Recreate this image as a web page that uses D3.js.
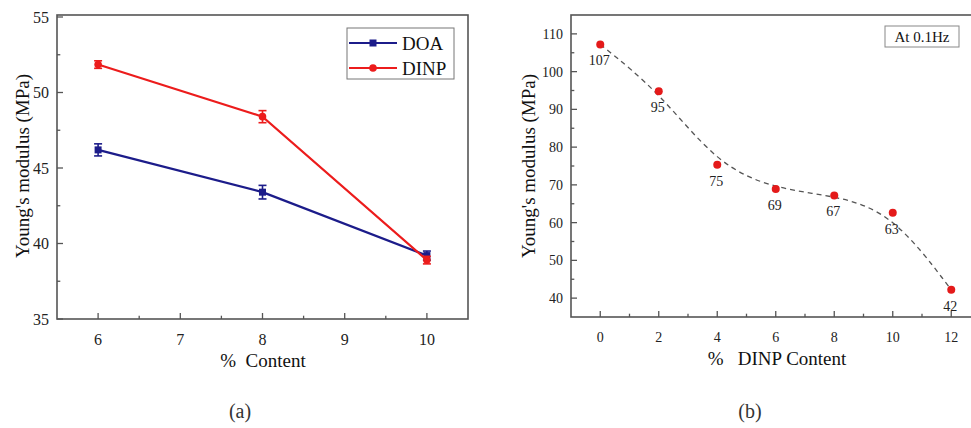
<!DOCTYPE html>
<html>
<head>
<meta charset="utf-8">
<script src="https://cdn.jsdelivr.net/npm/d3@7"></script>
<style>
body { margin: 0; background: #fff; }
svg { display: block; }
</style>
</head>
<body>
<svg id="chart" width="971" height="428"></svg>
<script>
// panel (a)
var contentA = [6, 8, 10]
var doaVals = [46.2, 43.4, 39.2]
var doaErr = [0.4, 0.45, 0.3]
var dinpVals = [51.85, 48.4, 38.9]
var dinpErr = [0.25, 0.4, 0.25]
var xTicksA = [6, 7, 8, 9, 10]
var yTicksA = [35, 40, 45, 50, 55]

// panel (b)
var contentB = [0, 2, 4, 6, 8, 10, 12]
var modulusB = [107.2, 94.8, 75.3, 68.9, 67.2, 62.6, 42.2]
var labelsB = ['107', '95', '75', '69', '67', '63', '42']
var xTicksB = [0, 2, 4, 6, 8, 10, 12]
var yTicksB = [40, 50, 60, 70, 80, 90, 100, 110]

var svg = d3.select('#chart')
var serif = 'Liberation Serif'
var frameColor = '#555'
var blue = '#1c1c8a'
var red = '#ec1c1c'

function inwardAxis(g, scale, ticks, minor, orient, len){
    // major + minor ticks pointing into the plot
    var all = ticks.map(function(t){ return {v: t, major: true} })
        .concat(minor.map(function(t){ return {v: t, major: false} }))
    g.selectAll('line.tick').data(all).enter()
        .append('line')
        .attr('class', 'tick')
        .attr('stroke', frameColor)
        .attr('stroke-width', 1.3)
        .each(function(d){
            var p = scale(d.v)
            var l = d.major ? len : len * 0.55
            var s = d3.select(this)
            if(orient == 'bottom'){
                s.attr('x1', p).attr('x2', p).attr('y1', 0).attr('y2', -l)
            } else {
                s.attr('y1', p).attr('y2', p).attr('x1', 0).attr('x2', l)
            }
        })
}

// ---------- panel (a) ----------
var A = {left: 57, top: 15, right: 468, bottom: 319}
var xA = d3.scaleLinear().domain([5.5, 10.5]).range([A.left, A.right])
var yA = d3.scaleLinear().domain([35, 55]).range([A.bottom, 17])

var ga = svg.append('g')

ga.append('rect')
    .attr('x', A.left).attr('y', A.top)
    .attr('width', A.right - A.left).attr('height', A.bottom - A.top)
    .attr('fill', 'none').attr('stroke', frameColor).attr('stroke-width', 1.6)

var gxa = ga.append('g').attr('transform', 'translate(0,' + A.bottom + ')')
inwardAxis(gxa, xA, xTicksA, [6.5, 7.5, 8.5, 9.5], 'bottom', 6)
gxa.selectAll('text').data(xTicksA).enter().append('text')
    .attr('x', function(d){ return xA(d) })
    .attr('y', 20)
    .attr('dy', '0.35em')
    .attr('text-anchor', 'middle')
    .attr('font-family', serif).attr('font-size', '16px').attr('fill', '#222')
    .text(function(d){ return d })

var gya = ga.append('g').attr('transform', 'translate(' + A.left + ',0)')
inwardAxis(gya, yA, yTicksA, [37.5, 42.5, 47.5, 52.5], 'left', 6)
gya.selectAll('text').data(yTicksA).enter().append('text')
    .attr('x', -8)
    .attr('y', function(d){ return yA(d) })
    .attr('dy', '0.35em')
    .attr('text-anchor', 'end')
    .attr('font-family', serif).attr('font-size', '16px').attr('fill', '#222')
    .text(function(d){ return d })

var lineA = d3.line()
    .x(function(d){ return xA(d[0]) })
    .y(function(d){ return yA(d[1]) })

var seriesA = [
    {name: 'DOA', vals: doaVals, err: doaErr, color: blue, shape: 'square'},
    {name: 'DINP', vals: dinpVals, err: dinpErr, color: red, shape: 'circle'}
]

seriesA.forEach(function(s){
    var pts = contentA.map(function(c, i){ return [c, s.vals[i], s.err[i]] })
    ga.append('path')
        .attr('d', lineA(pts))
        .attr('fill', 'none')
        .attr('stroke', s.color)
        .attr('stroke-width', 2.2)
    var eb = ga.selectAll('g.eb-' + s.name).data(pts).enter().append('g')
    eb.append('line')
        .attr('x1', function(d){ return xA(d[0]) }).attr('x2', function(d){ return xA(d[0]) })
        .attr('y1', function(d){ return yA(d[1] - d[2]) }).attr('y2', function(d){ return yA(d[1] + d[2]) })
        .attr('stroke', s.color).attr('stroke-width', 1.6)
    ;[-1, 1].forEach(function(sign){
        eb.append('line')
            .attr('x1', function(d){ return xA(d[0]) - 4 }).attr('x2', function(d){ return xA(d[0]) + 4 })
            .attr('y1', function(d){ return yA(d[1] + sign * d[2]) }).attr('y2', function(d){ return yA(d[1] + sign * d[2]) })
            .attr('stroke', s.color).attr('stroke-width', 1.6)
    })
    if(s.shape == 'square'){
        eb.append('rect')
            .attr('x', function(d){ return xA(d[0]) - 3.5 }).attr('y', function(d){ return yA(d[1]) - 3.5 })
            .attr('width', 7).attr('height', 7).attr('fill', s.color)
    } else {
        eb.append('circle')
            .attr('cx', function(d){ return xA(d[0]) }).attr('cy', function(d){ return yA(d[1]) })
            .attr('r', 3.8).attr('fill', s.color)
    }
})

// legend
var leg = ga.append('g')
leg.append('rect')
    .attr('x', 347).attr('y', 28).attr('width', 107).attr('height', 51)
    .attr('fill', '#fff').attr('stroke', '#777').attr('stroke-width', 1)
seriesA.forEach(function(s, i){
    var y = 43 + i * 25
    leg.append('line').attr('x1', 349).attr('x2', 397).attr('y1', y).attr('y2', y)
        .attr('stroke', s.color).attr('stroke-width', 2.2)
    if(s.shape == 'square'){
        leg.append('rect').attr('x', 369.5).attr('y', y - 3.5).attr('width', 7).attr('height', 7).attr('fill', s.color)
    } else {
        leg.append('circle').attr('cx', 373).attr('cy', y).attr('r', 3.8).attr('fill', s.color)
    }
    leg.append('text').attr('x', 402).attr('y', y).attr('dy', '0.35em')
        .attr('font-family', serif).attr('font-size', '19px').attr('fill', '#111')
        .text(s.name)
})

ga.append('text')
    .attr('transform', 'translate(22,166) rotate(-90)')
    .attr('text-anchor', 'middle')
    .attr('dy', '0.35em')
    .attr('font-family', serif).attr('font-size', '19px').attr('fill', '#111')
    .text("Young's modulus (MPa)")

ga.append('text')
    .attr('x', 263).attr('y', 360).attr('dy', '0.35em')
    .attr('text-anchor', 'middle')
    .attr('font-family', serif).attr('font-size', '19px').attr('fill', '#111')
    .attr('xml:space', 'preserve')
    .text('%  Content')

ga.append('text')
    .attr('x', 240).attr('y', 411).attr('dy', '0.35em')
    .attr('text-anchor', 'middle')
    .attr('font-family', serif).attr('font-size', '20px').attr('fill', '#333')
    .text('(a)')

// ---------- panel (b) ----------
var B = {left: 571, top: 15, right: 985, bottom: 317}
var xB = d3.scaleLinear().domain([-1, 13]).range([571, 980.5])
var yB = d3.scaleLinear().domain([35, 115]).range([B.bottom, B.top])

var gb = svg.append('g')

gb.append('rect')
    .attr('x', B.left).attr('y', B.top)
    .attr('width', B.right - B.left).attr('height', B.bottom - B.top)
    .attr('fill', 'none').attr('stroke', frameColor).attr('stroke-width', 1.6)

var gxb = gb.append('g').attr('transform', 'translate(0,' + B.bottom + ')')
inwardAxis(gxb, xB, xTicksB, [1, 3, 5, 7, 9, 11], 'bottom', 6)
gxb.selectAll('text').data(xTicksB).enter().append('text')
    .attr('x', function(d){ return xB(d) })
    .attr('y', 20)
    .attr('dy', '0.35em')
    .attr('text-anchor', 'middle')
    .attr('font-family', serif).attr('font-size', '14px').attr('fill', '#222')
    .text(function(d){ return d })

var gyb = gb.append('g').attr('transform', 'translate(' + B.left + ',0)')
inwardAxis(gyb, yB, yTicksB, [45, 55, 65, 75, 85, 95, 105], 'left', 6)
gyb.selectAll('text').data(yTicksB).enter().append('text')
    .attr('x', -8)
    .attr('y', function(d){ return yB(d) })
    .attr('dy', '0.35em')
    .attr('text-anchor', 'end')
    .attr('font-family', serif).attr('font-size', '14px').attr('fill', '#222')
    .text(function(d){ return d })

var ptsB = contentB.map(function(c, i){ return {x: c, y: modulusB[i], label: labelsB[i]} })

// smooth dashed trend through the points
gb.append('path')
    .attr('d', d3.line()
        .x(function(d){ return xB(d.x) })
        .y(function(d){ return yB(d.y) })
        .curve(d3.curveBasis)(ptsB))
    .attr('fill', 'none')
    .attr('stroke', '#555')
    .attr('stroke-width', 1.3)
    .attr('stroke-dasharray', '5,4')

gb.selectAll('circle.pt').data(ptsB).enter().append('circle')
    .attr('class', 'pt')
    .attr('cx', function(d){ return xB(d.x) })
    .attr('cy', function(d){ return yB(d.y) })
    .attr('r', 4)
    .attr('fill', '#e41a1a')

gb.selectAll('text.lbl').data(ptsB).enter().append('text')
    .attr('class', 'lbl')
    .attr('x', function(d){ return xB(d.x) - 1 })
    .attr('y', function(d){ return yB(d.y) + 16 })
    .attr('dy', '0.35em')
    .attr('text-anchor', 'middle')
    .attr('font-family', serif).attr('font-size', '14px').attr('fill', '#222')
    .text(function(d){ return d.label })

gb.append('rect')
    .attr('x', 885).attr('y', 26).attr('width', 74).attr('height', 21)
    .attr('fill', '#fff').attr('stroke', '#888').attr('stroke-width', 1)
gb.append('text')
    .attr('x', 922).attr('y', 37).attr('dy', '0.35em')
    .attr('text-anchor', 'middle')
    .attr('font-family', serif).attr('font-size', '15px').attr('fill', '#111')
    .text('At 0.1Hz')

gb.append('text')
    .attr('transform', 'translate(528,166) rotate(-90)')
    .attr('text-anchor', 'middle')
    .attr('dy', '0.35em')
    .attr('font-family', serif).attr('font-size', '19px').attr('fill', '#111')
    .text("Young's modulus (MPa)")

gb.append('text')
    .attr('x', 777).attr('y', 358).attr('dy', '0.35em')
    .attr('text-anchor', 'middle')
    .attr('font-family', serif).attr('font-size', '19px').attr('fill', '#111')
    .attr('xml:space', 'preserve')
    .text('%   DINP Content')

gb.append('text')
    .attr('x', 750).attr('y', 411).attr('dy', '0.35em')
    .attr('text-anchor', 'middle')
    .attr('font-family', serif).attr('font-size', '20px').attr('fill', '#333')
    .text('(b)')
</script>
</body>
</html>
